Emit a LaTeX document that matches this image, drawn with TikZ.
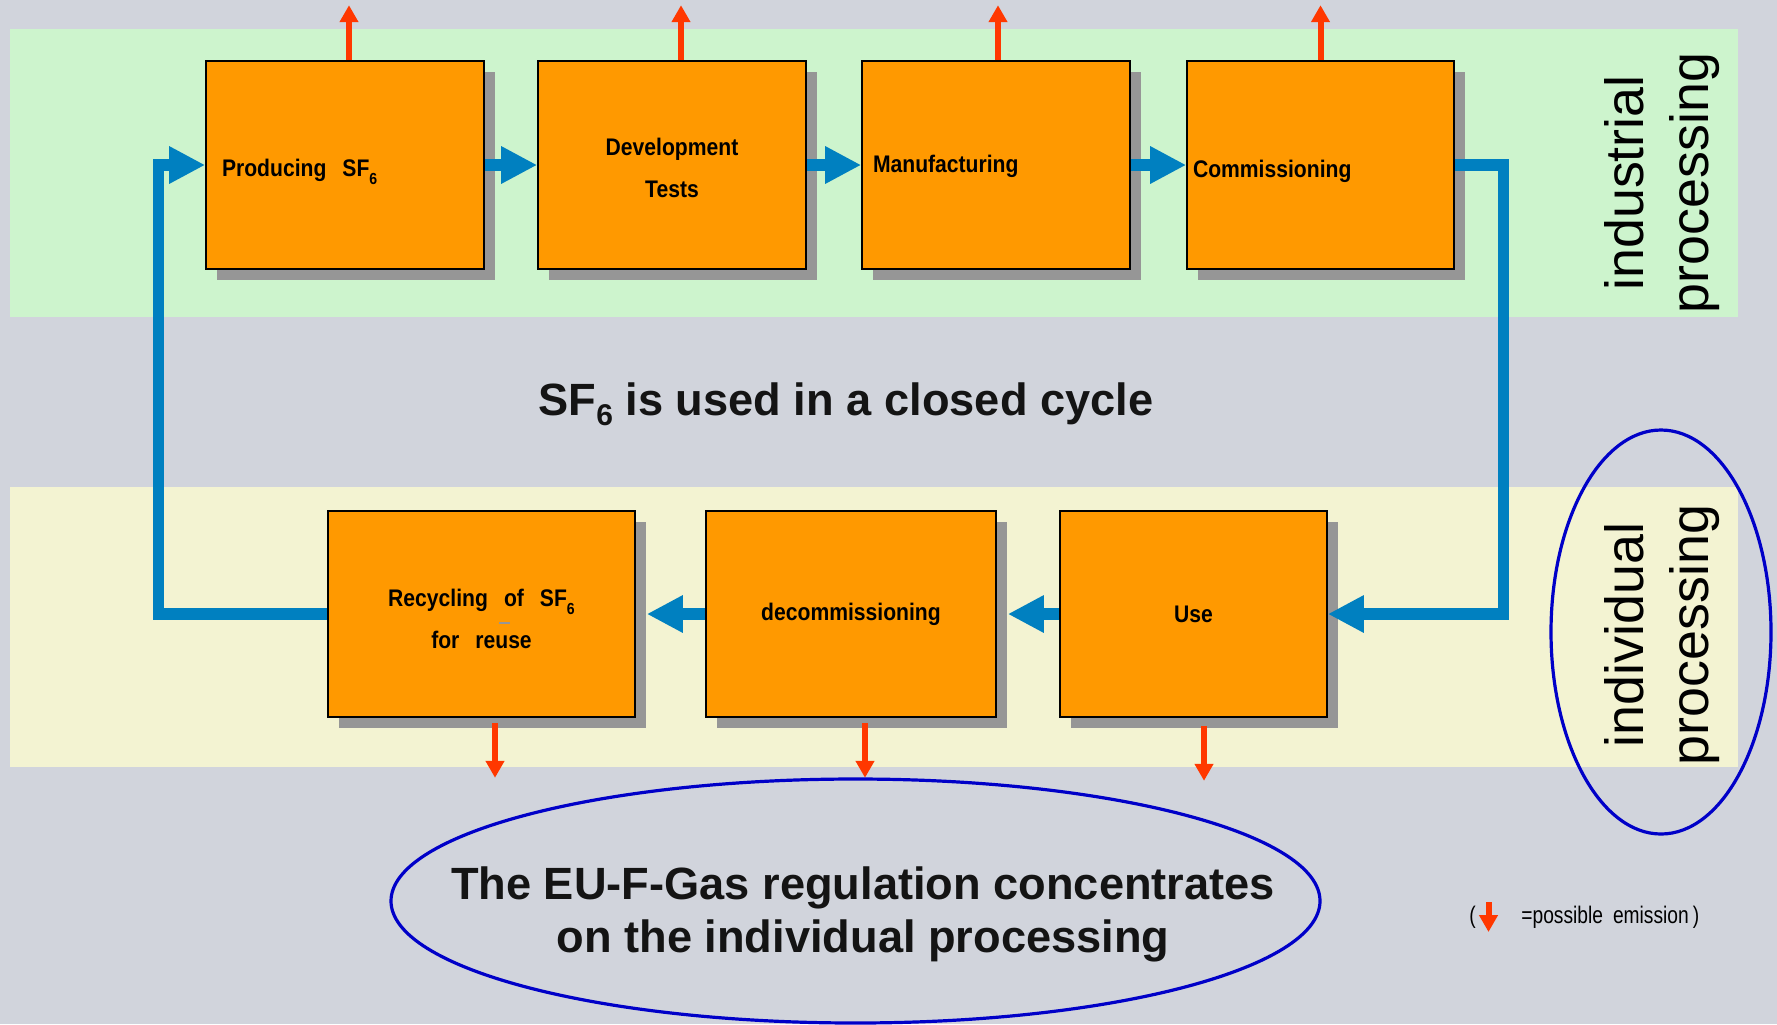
\documentclass[tikz,border=0pt]{standalone}
\usepackage{fontspec}
\usepackage{graphicx}
\setmainfont{Liberation Sans}
\newfontfamily\stagefont[FakeStretch=0.88]{Liberation Sans Bold}
\newfontfamily\notefont[FakeStretch=0.8]{Liberation Sans}
\usetikzlibrary{arrows.meta,shadows}
\definecolor{bggray}{RGB}{209,212,220}
\definecolor{bandgreen}{RGB}{205,244,205}
\definecolor{bandyellow}{RGB}{243,243,210}
\definecolor{boxorange}{RGB}{255,153,0}
\definecolor{shadowgray}{RGB}{150,150,150}
\definecolor{flowblue}{RGB}{0,128,192}
\definecolor{emisred}{RGB}{255,56,0}
\definecolor{ringblue}{RGB}{0,0,200}
\newcommand\widegap{\hspace{8pt}}
\newcommand\sixsub[2]{\raisebox{-#1}{\fontsize{#2}{#2}\selectfont 6}}
\begin{document}
\begin{tikzpicture}[x=0.5pt,y=-0.5pt,
  stage/.style={draw=black,line width=0.8pt,fill=boxorange,inner sep=0pt,
    minimum height=104pt,align=center,font=\stagefont\fontsize{12}{21}\selectfont,
    drop shadow={shadow xshift=5.5pt,shadow yshift=-5.5pt,fill=shadowgray,opacity=1}},
  flow/.style={draw=flowblue,line width=5.6pt,-{Triangle[length=18pt,width=17.5pt]}},
  emis/.style={draw=emisred,line width=3pt,-{Triangle[length=8.5pt,width=9pt]}},
  ring/.style={draw=ringblue,line width=1.6pt},
  side/.style={rotate=90,align=center,inner sep=0pt,font=\fontsize{26.9}{32.5}\selectfont},
  big/.style={inner sep=0pt,text=black!92,font=\bfseries\fontsize{22.6}{26.5}\selectfont},
  note/.style={anchor=base west,inner sep=0pt,font=\notefont\fontsize{12}{14}\selectfont}]
\useasboundingbox (0,0) rectangle (1777,1024);
\fill[bggray] (0,0) rectangle (1777,1024);
\fill[bandgreen] (10,29) rectangle (1738,317);
\fill[bandyellow] (10,487) rectangle (1738,767);
% industrial processing
\node[stage,minimum width=139pt,text width=123pt,inner xsep=8pt,align=left,text height=11.7pt,text depth=0pt] (prod) at (345,165) {Producing\widegap SF\sixsub{4pt}{8}};
\node[stage,minimum width=134pt] (dev) at (672,165) {\rule{0pt}{11.8pt}Development\\Tests};
\node[stage,minimum width=134pt,text width=123pt,inner xsep=5.5pt,align=left,text height=7.7pt,text depth=0pt] (manu) at (996,165) {Manufacturing};
\node[stage,minimum width=133.5pt,text width=127.5pt,inner xsep=3pt,align=left,text height=12.7pt,text depth=0pt] (comm) at (1320.5,165) {Commissioning};
% individual processing
\node[stage,minimum width=153.5pt,minimum height=103pt] (recy) at (481.5,614) {\rule{0pt}{13.8pt}Recycling\widegap of\widegap SF\sixsub{4pt}{8}\\for\widegap reuse};
\node[stage,minimum width=145pt,minimum height=103pt] (deco) at (851,614) {decommissioning};
\node[stage,minimum width=133.5pt,minimum height=103pt] (use) at (1193.5,614) {Use};
\draw[shadowgray,line width=1pt] (499,623) -- (510,623);
\draw[flow] (prod) -- (dev);
\draw[flow] (dev) -- (manu);
\draw[flow] (manu) -- (comm);
\draw[flow] (comm.east) -- ++(49,0) |- (use.east);
\draw[flow] (use) -- ([xshift=5.5pt]deco.east);
\draw[flow] (deco) -- ([xshift=5.5pt]recy.east);
\draw[flow] (recy.west) -- ++(-169,0) |- (prod.west);
\foreach \n/\dx in {prod/2pt,dev/4.5pt,manu/1pt,comm/0pt}
  \draw[emis] ([xshift=\dx]\n.north) -- ++(0,-55);
\foreach \n/\dx/\dy in {recy/6.75pt/-2.5pt,deco/7pt/-2.5pt,use/5.25pt/-4pt}
  \draw[emis] ([xshift=\dx,yshift=\dy]\n.south) -- ++(0,55);
\node[big,anchor=base] (cycle) at (846,415) {SF\sixsub{5pt}{15} is used in a closed cycle};
\node[side] (indus) at (1662,183) {industrial\\processing};
\node[side] (indiv) at (1662,635) {individual\\processing};
\draw[ring] (1661,632) ellipse [x radius=110,y radius=202];
\draw[ring] (855.5,901) ellipse [x radius=464.5,y radius=122];
\node[big,align=center] (rule) at (863,914) {The EU-F-Gas regulation concentrates\\on the individual processing};
% legend
\node[note] (lgopen) at (1469,923) {(};
\draw[emis] (1488.5,902) -- ++(0,30);
\node[note] (lgtext) at (1521,923) {=possible\hspace{5pt}emission\,)};
\end{tikzpicture}
\end{document}
